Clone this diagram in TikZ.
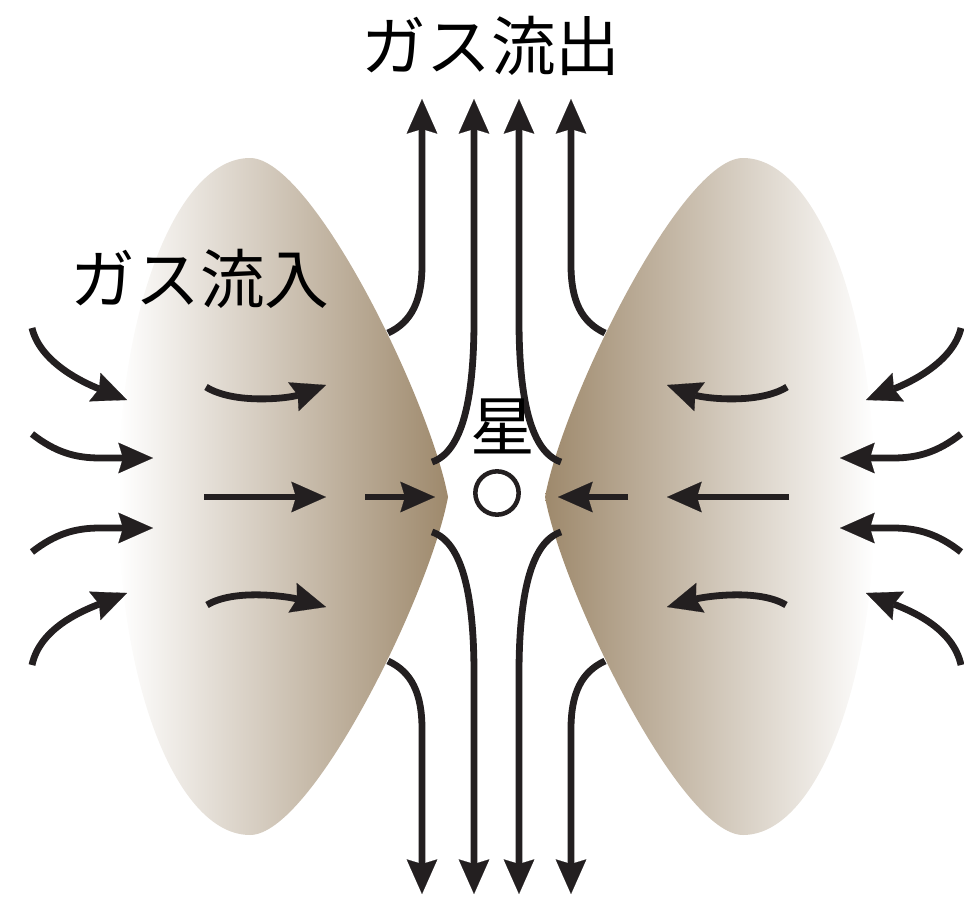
\documentclass[tikz,border=0pt]{standalone}
\usepackage{fontspec}
\newfontfamily\jpfont{Noto Sans CJK JP}
\usetikzlibrary{arrows.meta}
\definecolor{dust}{RGB}{158,137,108}
\definecolor{ink}{RGB}{35,31,32}
\begin{document}
\begin{tikzpicture}[x=0.75pt,y=-0.75pt,
  flow/.style={draw=ink, line width=5.1pt,
    -{Stealth[length=26pt,width=23pt,inset=3.5pt,line width=0.1pt]}},
  lbl/.style={inner sep=0pt, text=black,
    font=\jpfont\fontsize{48.5pt}{50pt}\selectfont},
  starmark/.style={circle, draw=ink, line width=3.4pt, inner sep=0pt,
    minimum size=32.5pt}]
\useasboundingbox (0,0) rectangle (964,899);

% two dust lobes, shaded towards the centre
\path[left color=white, right color=dust]
  (448,497) .. controls (430,400) and (312,158) .. (250,158)
  .. controls (177,158) and (118,310) .. (118,497)
  .. controls (118,684) and (177,835) .. (250,835)
  .. controls (312,835) and (430,594) .. (448,497) -- cycle;
\path[left color=dust, right color=white]
  (545,497) .. controls (563,400) and (681,158) .. (743,158)
  .. controls (816,158) and (875,310) .. (875,497)
  .. controls (875,684) and (816,835) .. (743,835)
  .. controls (681,835) and (563,594) .. (545,497) -- cycle;

% outflow along the axis
\draw[flow] (388,333) .. controls (412,322) and (422,300) .. (422,265) -- (422,99);
\draw[flow] (432,462) .. controls (462,452) and (474,400) .. (474,320) -- (474,99);
\draw[flow] (561,462) .. controls (531,452) and (519,400) .. (519,320) -- (519,99);
\draw[flow] (605,333) .. controls (581,322) and (571,300) .. (571,265) -- (571,99);
\draw[flow] (388,661) .. controls (412,672) and (422,694) .. (422,729) -- (422,894);
\draw[flow] (432,532) .. controls (462,542) and (474,594) .. (474,674) -- (474,894);
\draw[flow] (561,532) .. controls (531,542) and (519,594) .. (519,674) -- (519,894);
\draw[flow] (605,661) .. controls (581,672) and (571,694) .. (571,729) -- (571,894);

% inflow from the left
\draw[flow] (32,328) .. controls (40,362) and (82,382) .. (127,400);
\draw[flow] (32,434) .. controls (55,452) and (75,458) .. (100,458) -- (153,458);
\draw[flow] (32,552) .. controls (55,534) and (75,528) .. (100,528) -- (153,528);
\draw[flow] (32,665) .. controls (40,628) and (82,611) .. (127,593);
\draw[flow] (206,387) .. controls (235,405) and (290,398) .. (326,385);
\draw[flow] (204,497) -- (326,497);
\draw[flow] (207,605) .. controls (235,588) and (290,597) .. (326,607);
\draw[flow] (365,497) -- (435,497);

% inflow from the right
\draw[flow] (961,328) .. controls (953,362) and (911,382) .. (866,400);
\draw[flow] (961,434) .. controls (938,452) and (918,458) .. (893,458) -- (840,458);
\draw[flow] (961,552) .. controls (938,534) and (918,528) .. (893,528) -- (840,528);
\draw[flow] (961,665) .. controls (953,628) and (911,611) .. (866,593);
\draw[flow] (787,387) .. controls (758,405) and (703,398) .. (667,385);
\draw[flow] (789,497) -- (667,497);
\draw[flow] (786,605) .. controls (758,588) and (703,597) .. (667,607);
\draw[flow] (628,497) -- (558,497);

% the star and the labels
\node[starmark] (star) at (497,493) {};
\node[lbl] (starlabel) at (503,426) {星};
\node[lbl] (outflow) at (491,46) {ガス流出};
\node[lbl] (inflow) at (200,279) {ガス流入};
\end{tikzpicture}
\end{document}
